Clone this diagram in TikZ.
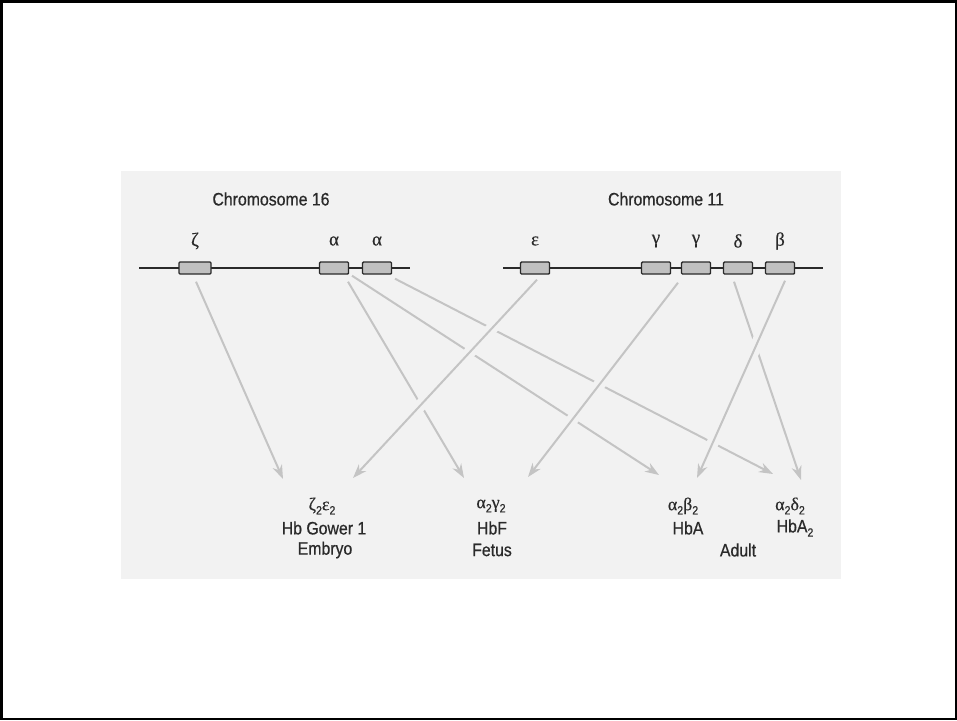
\documentclass[tikz,border=0pt]{standalone}
\usepackage{fontspec}
\setmainfont{Liberation Sans}[FakeStretch=0.88,FakeBold=0.6]
\newfontfamily\grk{Liberation Serif}[FakeBold=0.4]
\usetikzlibrary{arrows.meta,calc}
\definecolor{panel}{HTML}{F2F2F2}
\definecolor{arr}{HTML}{C4C4C4}
\definecolor{gene}{HTML}{C0C0C0}
\definecolor{ink}{HTML}{2A2A2A}
\newcommand\subtwo{\raisebox{-0.45ex}{\fontsize{12}{12}\selectfont 2}}
\begin{document}
\begin{tikzpicture}[x=1pt,y=-1pt,
 genebox/.style={draw=ink, fill=gene, line width=1.4pt, minimum width=29pt, minimum height=12pt, inner sep=0pt, rounded corners=1pt},
 chrom/.style={draw=ink, line width=1.4pt},
 lbl/.style={font=\fontsize{18}{20}\selectfont, text=ink, inner sep=0pt},
 glbl/.style={font=\grk\fontsize{19}{20}\selectfont, text=ink, inner sep=0pt},
 link/.style={draw=arr, line width=2pt, -{Stealth[length=14pt,width=10pt,inset=4.5pt]}},
 over/.style={link, preaction={draw=panel, line width=12pt, shorten <=8pt, shorten >=20pt}}
]
\useasboundingbox (0,0) rectangle (957,720);
\fill[white] (0,0) rectangle (957,720);
\draw[line width=2.5pt] (1.25,1.25) rectangle (955.75,718.75);
\fill[panel] (121,171) rectangle (841,579);

% chromosomes
\node[lbl] (c16) at (271,199) {Chromosome 16};
\node[lbl] (c11) at (666,199) {Chromosome 11};
\draw[chrom] (139,268) -- (410,268);
\draw[chrom] (503,268) -- (823,268);

\node[genebox, minimum width=32pt] (z) at (195,268) {};
\node[genebox] (a1) at (334,268) {};
\node[genebox] (a2) at (377,268) {};
\node[genebox] (e) at (535,268) {};
\node[genebox] (g1) at (656,268) {};
\node[genebox] (g2) at (696,268) {};
\node[genebox] (d) at (738,268) {};
\node[genebox] (b) at (780,268) {};

\node[glbl] (lz) at (195,241) {ζ};
\node[glbl] (la1) at (334,241) {α};
\node[glbl] (la2) at (377,241) {α};
\node[glbl] (le) at (535,241) {ε};
\node[glbl] (lg1) at (656,241) {γ};
\node[glbl] (lg2) at (696,241) {γ};
\node[glbl] (ld) at (738,241) {δ};
\node[glbl] (lb) at (780,241) {β};

% products
\node[lbl] (p1) at (322,506) {{\grk ζ}\subtwo{\grk ε}\subtwo};
\node[lbl] (n1) at (324,528) {Hb Gower 1};
\node[lbl] (s1) at (325,550) {Embryo};
\node[lbl] (p2) at (491,506) {{\grk α}\subtwo{\grk γ}\subtwo};
\node[lbl] (n2) at (492,528) {HbF};
\node[lbl] (s2) at (492,550) {Fetus};
\node[lbl] (p3) at (683,506) {{\grk α}\subtwo{\grk β}\subtwo};
\node[lbl] (n3) at (688,528) {HbA};
\node[lbl] (p4) at (790,506) {{\grk α}\subtwo{\grk δ}\subtwo};
\node[lbl] (n4) at (795,528) {HbA\subtwo};
\node[lbl] (s3) at (738,550) {Adult};

% arrow ends
\coordinate (zs) at ($(z.south)+(1,7)$);
\coordinate (es) at ($(e.south)+(2,5)$);
\coordinate (a1f) at ($(a1.south)+(14,7)$);
\coordinate (a1h) at ($(a1.south)+(18,1)$);
\coordinate (a2s) at ($(a2.south)+(18,4)$);
\coordinate (gs) at ($(g1.south)+(22,8)$);
\coordinate (ds) at ($(d.south)+(-4,7)$);
\coordinate (bs) at ($(b.south)+(5,6)$);
\coordinate (t1) at (283,479);
\coordinate (t2) at (353,478);
\coordinate (t3) at (464,478);
\coordinate (t4) at (528,477);
\coordinate (t5) at (659,475);
\coordinate (t6) at (697,478);
\coordinate (t7) at (773,474);
\coordinate (t8) at (801,480);

\draw[link] (zs) -- (t1);
\draw[link] (a1f) -- (t3);
\draw[link] (a1h) -- (t5);
\draw[link] (a2s) -- (t7);
\draw[link] (ds) -- (t8);
\draw[over] (es) -- (t2);
\draw[over] (gs) -- (t4);
\draw[over] (bs) -- (t6);
\end{tikzpicture}
\end{document}
